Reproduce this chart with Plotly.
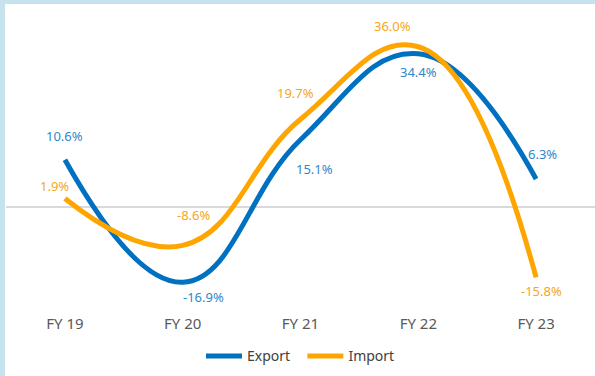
import plotly.graph_objects as go

categories = ["FY 19", "FY 20", "FY 21", "FY 22", "FY 23"]
export_vals = [10.6, -16.9, 15.1, 34.4, 6.3]
import_vals = [1.9, -8.6, 19.7, 36.0, -15.8]

# label offsets in pixels (xshift, yshift)
export_offsets = [(0, 24), (21, -15), (14, -29), (0, -18), (6, 25)]
import_offsets = [(-10, 13), (11, 30), (-5, 26), (-26, 21), (5, -14)]

EXPORT_COLOR = "#0070C0"
IMPORT_COLOR = "#FFA500"
EXPORT_LABEL = "#2F87CB"
IMPORT_LABEL = "#F5A623"
FONT = "Noto Sans"

fig = go.Figure()
fig.add_trace(go.Scatter(
    x=categories, y=export_vals, name="Export  ", mode="lines",
    line=dict(color=EXPORT_COLOR, width=5, shape="spline", smoothing=1.25),
))
fig.add_trace(go.Scatter(
    x=categories, y=import_vals, name="Import", mode="lines",
    line=dict(color=IMPORT_COLOR, width=5, shape="spline", smoothing=1.25),
))

annotations = []
for vals, offs, col in ((export_vals, export_offsets, EXPORT_LABEL),
                        (import_vals, import_offsets, IMPORT_LABEL)):
    for c, v, (dx, dy) in zip(categories, vals, offs):
        annotations.append(dict(
            x=c, y=v, xref="x", yref="y", text=f"{v:.1f}%",
            showarrow=False, xshift=dx, yshift=dy,
            font=dict(family=FONT, size=13, color=col),
        ))

W, H = 595, 376
ml, mr, mt, mb = 6, 0, 20, 71
pw = W - ml - mr
ph = H - mt - mb

fig.update_layout(
    width=W, height=H,
    margin=dict(l=ml, r=mr, t=mt, b=mb, pad=0),
    paper_bgcolor="#C6E2EC",
    plot_bgcolor="rgba(0,0,0,0)",
    font=dict(family=FONT, color="#595959"),
    showlegend=True,
    legend=dict(orientation="h", x=0.5, xanchor="center", y=-0.18, yanchor="middle",
                font=dict(family=FONT, size=14, color="#404040"),
                bgcolor="rgba(0,0,0,0)", itemwidth=36),
    annotations=annotations,
    shapes=[dict(type="rect", xref="paper", yref="paper",
                 x0=(5 - ml) / pw, x1=(W - ml + 5) / pw,
                 y0=-(H - mt) / ph - 0.05, y1=(mt - 4) / ph + 1,
                 fillcolor="white", line=dict(width=0), layer="below")],
    xaxis=dict(range=[-0.5, 4.5], showgrid=False, zeroline=False, showline=False,
               ticks="", tickfont=dict(family=FONT, size=15, color="#595959"),
               ticklabelstandoff=8),
    yaxis=dict(range=[-22, 42], showgrid=False, showticklabels=False,
               zeroline=True, zerolinecolor="#D9D9D9", zerolinewidth=2,
               showline=False, ticks=""),
)

fig.write_html("out.html")
